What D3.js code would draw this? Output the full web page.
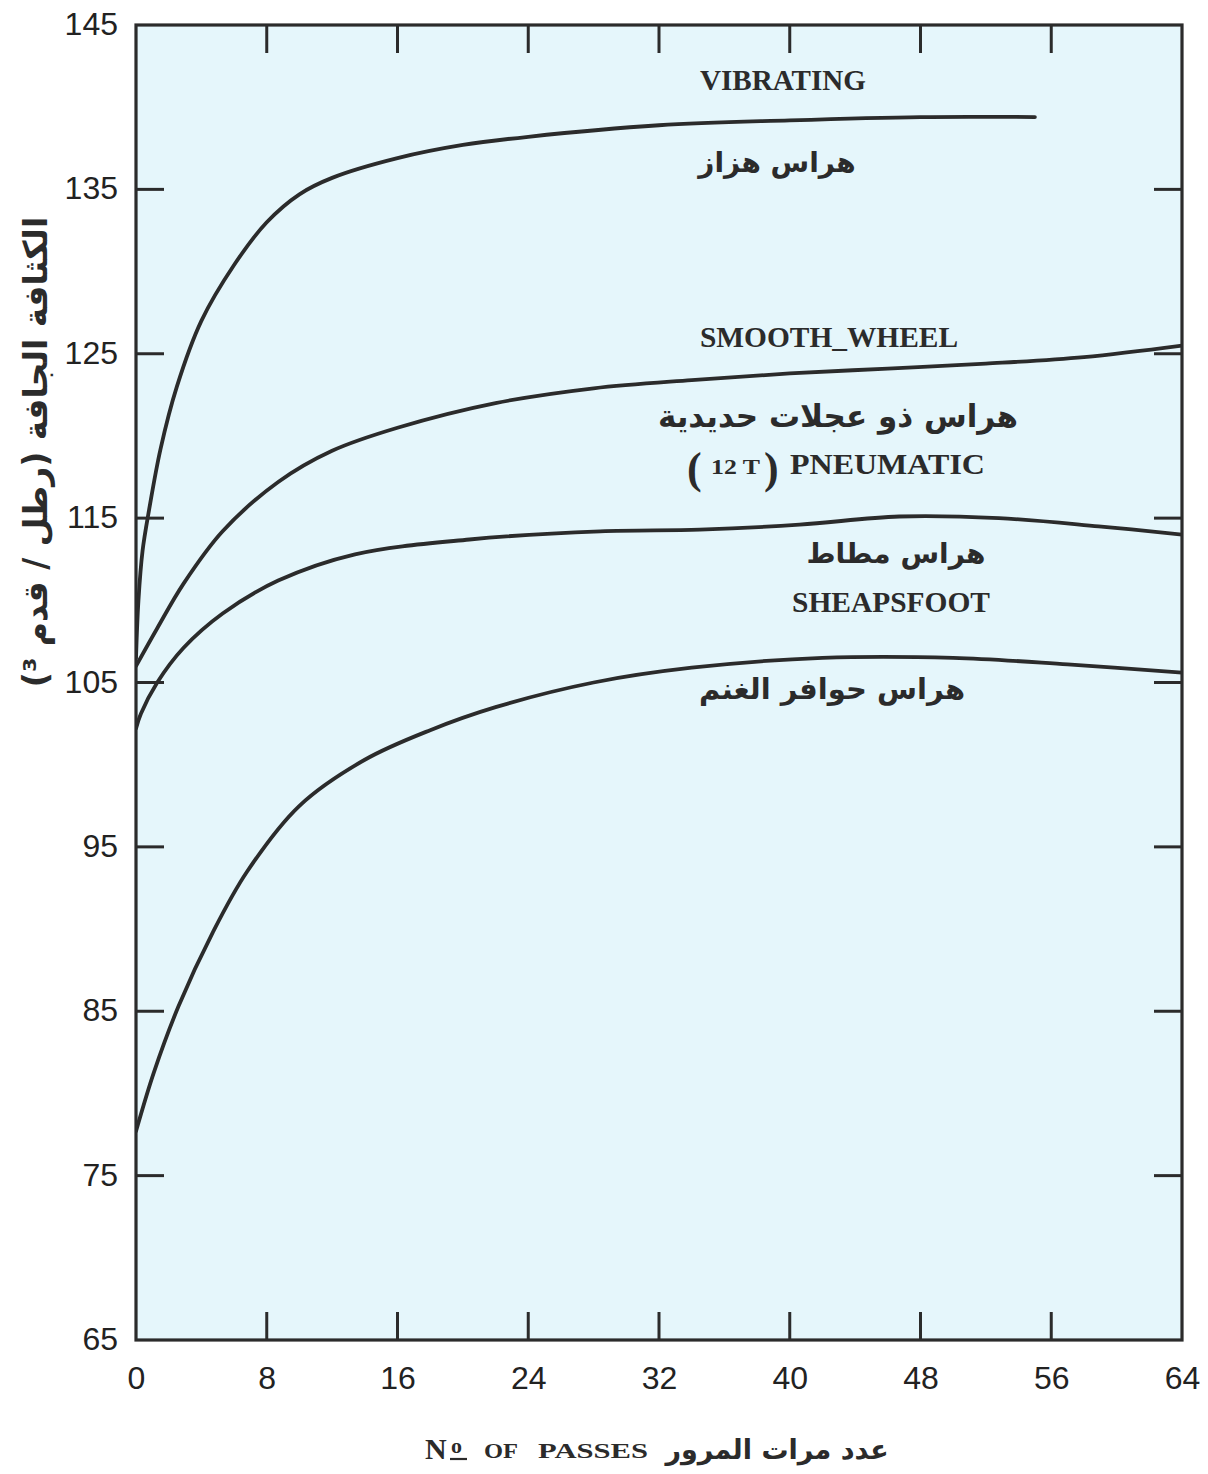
<!DOCTYPE html>
<html><head><meta charset="utf-8">
<script src="https://cdn.jsdelivr.net/npm/d3@7"></script>
<style>body{margin:0;background:#fff}svg{display:block}</style>
</head><body>
<svg id="c" width="1208" height="1474"></svg>
<script>
// ---- data ----
const xTicks = [0, 8, 16, 24, 32, 40, 48, 56, 64];
const yTicks = [65, 75, 85, 95, 105, 115, 125, 135, 145];
const vibrating = [[0,106.5],[0.15,110],[0.4,113],[0.8,115.5],[1.5,119.2],[2.5,123],[4,127],[6,130.4],[8,133.0],[10,134.7],[12,135.7],[16,136.9],[20,137.7],[24,138.2],[32,138.9],[40,139.2],[48,139.4],[55,139.4]];
const smoothWheel = [[0,106],[1.3,108.3],[2.9,111],[5.3,114.2],[8.7,117.2],[12,119.1],[16,120.5],[22,122],[28,122.9],[34,123.4],[40,123.8],[46,124.1],[52,124.4],[58,124.8],[64,125.5]];
const pneumatic = [[0,102.2],[0.3,103.1],[1.3,105],[2.9,107.1],[5.3,109.2],[8.7,111.2],[13.4,112.8],[20.4,113.7],[28.4,114.2],[34.5,114.3],[40.6,114.6],[46.7,115.1],[52.8,115.0],[58.9,114.5],[64,114.0]];
const sheepsfoot = [[0,77.7],[1.1,81.3],[2.6,85.3],[4.7,89.8],[6.8,93.5],[10,97.5],[14,100.3],[18,102.1],[22,103.5],[28,105.0],[34,105.9],[42,106.5],[50,106.5],[57,106.1],[64,105.6]];
const series = [vibrating, smoothWheel, pneumatic, sheepsfoot];

const svg = d3.select('#c');
const L = 136, R = 1182, T = 25, B = 1340;
const x = d3.scaleLinear().domain([0, 64]).range([L, R]);
const y = d3.scaleLinear().domain([65, 145]).range([B, T]);
const ink = '#2b2b2b';

svg.append('rect').attr('x', L).attr('y', T).attr('width', R - L).attr('height', B - T).attr('fill', '#e5f6fb');
svg.append('clipPath').attr('id', 'clip').append('rect').attr('x', L).attr('y', T).attr('width', R - L).attr('height', B - T);

// curves
const line = d3.line().x(d => x(d[0])).y(d => y(d[1])).curve(d3.curveCatmullRom.alpha(0.5));
svg.append('g').attr('clip-path', 'url(#clip)').selectAll('path').data(series).join('path')
  .attr('d', line).attr('fill', 'none').attr('stroke', ink).attr('stroke-width', 3.8).attr('stroke-linecap', 'round');

// axes (inside ticks)
const inner = xTicks.slice(1, -1), innerY = yTicks.slice(1, -1);
const tl = 28;
const axB = svg.append('g').attr('transform', `translate(0,${B})`)
  .call(d3.axisBottom(x).tickValues(xTicks).tickSize(0).tickPadding(26).tickFormat(d3.format('d')));
const axL = svg.append('g').attr('transform', `translate(${L},0)`)
  .call(d3.axisLeft(y).tickValues(yTicks).tickSize(0).tickPadding(18).tickFormat(d3.format('d')));
[axB, axL].forEach(a => {
  a.select('.domain').remove();
  a.selectAll('text').attr('font-family', 'Liberation Sans, Arial, sans-serif').attr('font-size', 32).attr('fill', '#222');
});
axB.selectAll('text').attr('dy', '0.71em');
axL.selectAll('text').attr('dy', '0.30em');

const tk = svg.append('g').attr('stroke', ink).attr('stroke-width', 3);
tk.selectAll('.b').data(inner).join('line').attr('x1', d => x(d)).attr('x2', d => x(d)).attr('y1', B).attr('y2', B - tl);
tk.selectAll('.t').data(inner).join('line').attr('x1', d => x(d)).attr('x2', d => x(d)).attr('y1', T).attr('y2', T + tl);
tk.selectAll('.l').data(innerY).join('line').attr('x1', L).attr('x2', L + tl).attr('y1', d => y(d)).attr('y2', d => y(d));
tk.selectAll('.r').data(innerY).join('line').attr('x1', R).attr('x2', R - tl).attr('y1', d => y(d)).attr('y2', d => y(d));

svg.append('rect').attr('x', L).attr('y', T).attr('width', R - L).attr('height', B - T)
  .attr('fill', 'none').attr('stroke', ink).attr('stroke-width', 3.2);

// labels
const serif = 'Liberation Serif, Times New Roman, serif';
const arab = 'DejaVu Sans, sans-serif';
function en(t, x0, by, size, len) {
  const e = svg.append('text').attr('x', x0).attr('y', by).attr('text-anchor', 'start')
    .attr('font-family', serif).attr('font-weight', 'bold').attr('font-size', size).attr('fill', ink).text(t);
  if (len) e.attr('textLength', len).attr('lengthAdjust', 'spacingAndGlyphs');
  return e;
}
function ar(t, cx, by, size) {
  return svg.append('text').attr('x', cx).attr('y', by).attr('text-anchor', 'middle')
    .attr('font-family', arab).attr('font-weight', 'bold').attr('font-size', size).attr('fill', ink).text(t);
}
en('VIBRATING', 700, 90, 29, 166);
ar('هراس هزاز', 777, 172, 28);
en('SMOOTH_WHEEL', 700, 347, 29, 258);
ar('هراس ذو عجلات حديدية', 838, 427, 31);
en('(', 687, 483, 44);
en('12 T', 711, 474, 22, 49);
en(')', 764, 483, 44);
en('PNEUMATIC', 790, 474, 29, 195);
ar('هراس مطاط', 896, 563, 28);
en('SHEAPSFOOT', 792, 612, 29, 198);
ar('هراس حوافر الغنم', 832, 699, 29);

// x axis title
en('N', 425, 1459, 30);
en('o', 451, 1453, 22);
svg.append('line').attr('x1', 450).attr('x2', 467).attr('y1', 1459).attr('y2', 1459).attr('stroke', ink).attr('stroke-width', 2.2);
en('OF', 484, 1458, 22, 34);
en('PASSES', 538, 1458, 22, 110);
ar('عدد مرات المرور', 777, 1459, 27);

// y axis title
svg.append('text').attr('transform', 'translate(47,452) rotate(-90)').attr('text-anchor', 'middle')
  .attr('font-family', arab).attr('font-weight', 'bold').attr('font-size', 33).attr('fill', ink)
  .text('الكثافة الجافة (رطل / قدم ³)');
</script>
</body></html>
